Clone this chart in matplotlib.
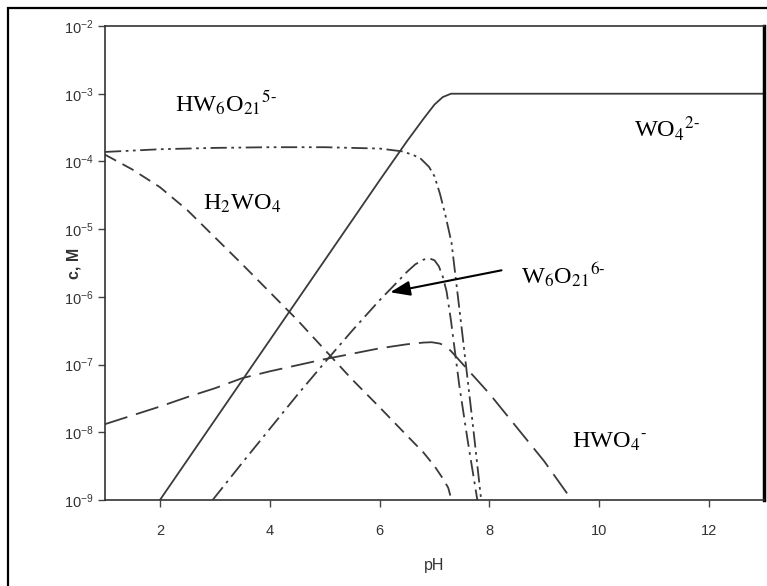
import matplotlib
matplotlib.use("Agg")
import matplotlib.pyplot as plt
from matplotlib.patches import Rectangle
from matplotlib.ticker import LogLocator, NullLocator
import numpy as np

plt.rcParams['font.family'] = ['Liberation Sans', 'DejaVu Sans']
plt.rcParams['mathtext.fontset'] = 'custom'
plt.rcParams['mathtext.rm'] = 'Liberation Sans'

# species concentrations, log10(c / M) vs pH
ph_wo4 = [2.0, 3.0, 4.0, 5.0, 6.0, 6.5, 6.8, 7.0, 7.15, 7.3, 7.5, 13.0]
lg_wo4 = [-9.0, -7.82, -6.64, -5.46, -4.28, -3.70, -3.37, -3.16, -3.05, -3.0, -3.0, -3.0]

ph_h2wo4 = [1.0, 1.5, 2.0, 2.5, 3.0, 3.5, 4.0, 4.5, 5.0, 5.5, 6.0, 6.5, 6.8, 7.0, 7.15, 7.25, 7.31]
lg_h2wo4 = [-3.9, -4.12, -4.38, -4.72, -5.12, -5.52, -5.93, -6.34, -6.78, -7.22, -7.63, -8.05, -8.3, -8.5, -8.68, -8.82, -9.0]

ph_hwo4 = [1.0, 1.5, 2.0, 2.5, 3.0, 3.5, 4.0, 4.5, 5.0, 5.5, 6.0, 6.5, 6.8, 6.95, 7.1, 7.2, 7.3, 7.5, 8.0, 8.5, 9.0, 9.5]
lg_hwo4 = [-7.88, -7.75, -7.62, -7.48, -7.35, -7.2, -7.1, -7.01, -6.92, -6.84, -6.76, -6.7, -6.675, -6.67, -6.69, -6.73, -6.8, -6.98, -7.43, -7.93, -8.43, -9.0]

ph_w6 = [2.96, 3.5, 4.0, 4.5, 5.0, 5.5, 6.0, 6.3, 6.5, 6.65, 6.8, 6.9, 7.0, 7.08, 7.15, 7.22, 7.3, 7.45, 7.6, 7.78]
lg_w6 = [-9.0, -8.45, -7.95, -7.45, -6.97, -6.5, -6.05, -5.8, -5.63, -5.52, -5.45, -5.43, -5.46, -5.55, -5.7, -5.92, -6.35, -7.3, -8.1, -9.0]

ph_hw6 = [1.0, 2.0, 3.0, 4.0, 5.0, 6.0, 6.4, 6.6, 6.75, 6.9, 7.0, 7.1, 7.2, 7.31, 7.5, 7.7, 7.85]
lg_hw6 = [-3.86, -3.82, -3.80, -3.79, -3.79, -3.81, -3.85, -3.9, -3.96, -4.08, -4.22, -4.48, -4.8, -5.2, -6.5, -7.9, -9.0]

xticks = [2, 4, 6, 8, 10, 12]

fig = plt.figure(figsize=(7.67, 5.86), dpi=100)
ax = fig.add_axes([105/767, 86/586, 659/767, 474/586])

lc = '#3a3a3a'
lw = 1.3
ax.plot(ph_wo4, 10.0**np.array(lg_wo4), color=lc, lw=lw, ls='-')
ax.plot(ph_h2wo4, 10.0**np.array(lg_h2wo4), color=lc, lw=lw, ls=(0, (7, 4)))
ax.plot(ph_hwo4, 10.0**np.array(lg_hwo4), color=lc, lw=lw, ls=(0, (13, 5)))
ax.plot(ph_w6, 10.0**np.array(lg_w6), color=lc, lw=lw, ls=(0, (9, 3, 1.5, 3)))
ax.plot(ph_hw6, 10.0**np.array(lg_hw6), color=lc, lw=lw, ls=(0, (9, 2.5, 1.5, 2.5, 1.5, 2.5)))

ax.set_yscale('log')
ax.set_xlim(1, 13)
ax.set_ylim(1e-9, 1e-2)
ax.set_xticks(xticks)
ax.yaxis.set_major_locator(LogLocator(base=10, numticks=20))
ax.yaxis.set_minor_locator(NullLocator())
ax.tick_params(direction='out', length=5, width=1, color='#444', labelcolor='#333')
ax.tick_params(axis='y', labelsize=10.5, pad=3)
ax.tick_params(axis='x', labelsize=10.5, pad=12)
for s in ['left', 'bottom', 'top']:
    ax.spines[s].set_linewidth(1.2)
    ax.spines[s].set_color('#333')
ax.spines['right'].set_linewidth(2.5)
ax.spines['right'].set_color('black')

ax.set_xlabel('pH', fontsize=11.5, color='#333', labelpad=15)
ax.set_ylabel('c, M', fontsize=11.5, color='#333', fontweight='bold')
ax.yaxis.set_label_coords(-0.035, 0.5)

tk = dict(family='Liberation Serif', fontsize=17.5, math_fontfamily='stix', color='black')
ax.text(2.27, 10**-3.27, 'HW$_6$O$_{21}$$^{5\\text{-}}$', **tk)
ax.text(2.78, 10**-4.72, 'H$_2$WO$_4$', **tk)
ax.text(10.64, 10**-3.64, 'WO$_4$$^{2\\text{-}}$', **tk)
ax.text(8.58, 10**-5.80, 'W$_6$O$_{21}$$^{6\\text{-}}$', **tk)
ax.text(9.51, 10**-8.23, 'HWO$_4$$^{\\text{-}}$', **tk)

ax.annotate('', xy=(6.145, 10**-5.94), xytext=(8.27, 10**-5.60),
            arrowprops=dict(arrowstyle='-|>,head_length=1.2,head_width=0.45',
                            color='black', lw=1.5))

fig.add_artist(Rectangle((8/767, -0.05), 1.0, (578/586) + 0.05,
                         transform=fig.transFigure, fill=False,
                         edgecolor='black', lw=1.6))

fig.savefig('out.png', dpi=100)
